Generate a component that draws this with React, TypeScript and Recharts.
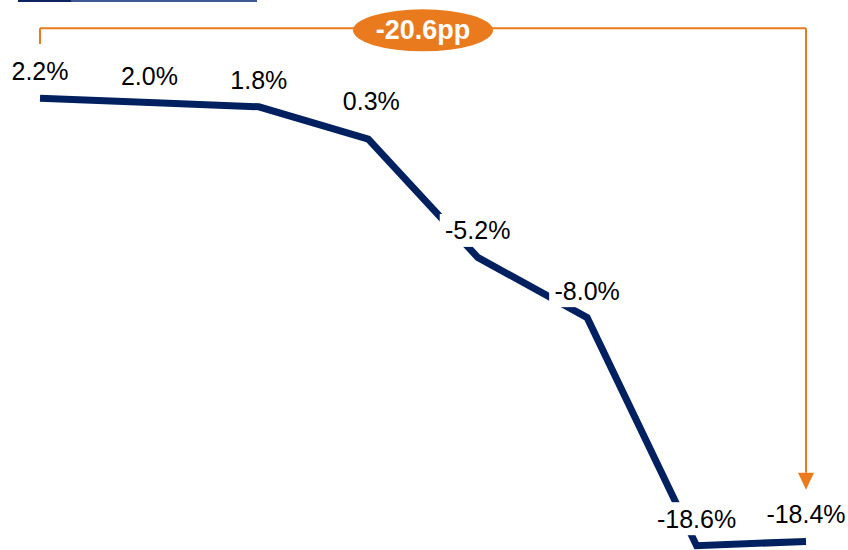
import { LabelList, Line, LineChart, ReferenceLine, XAxis, YAxis } from 'recharts';

const periods = ['P1', 'P2', 'P3', 'P4', 'P5', 'P6', 'P7', 'P8'];
const changePct = [2.2, 2.0, 1.8, 0.3, -5.2, -8.0, -18.6, -18.4];

// bracket annotation: total drop first -> last
const dropLabel = '-20.6pp';
const bracketLevel = 5.45;
const leftTickEnd = 4.72;
const arrowEnd = -16.0;

const NAVY = '#002060';
const ORANGE = '#E97B1E';
const FONT = '"Liberation Sans", Arial, sans-serif';

const data = periods.map((p, i) => ({ period: p, value: changePct[i] }));

function ValueLabel(props: any) {
  const { x, y, value, index } = props;
  if (x == null || y == null) return null;
  const text = `${Number(value).toFixed(1)}%`;
  const fontSize = 25;
  const w = text.length * fontSize * 0.56 + 6;
  const h = 33;
  // the 0.3% label sits a bit higher and right, clear of the line
  const lift = index === 3 ? 38 : 27;
  const cx = index === 3 ? x + 3 : x;
  const cy = y - lift;
  return (
    <g>
      <rect x={cx - w / 2} y={cy - h / 2} width={w} height={h} fill="#fff" />
      <text
        x={cx}
        y={cy}
        textAnchor="middle"
        dominantBaseline="central"
        fontFamily={FONT}
        fontSize={fontSize}
        fill="#000"
      >
        {text}
      </text>
    </g>
  );
}

function BracketTop(props: any) {
  const { x1, y1, x2, y2 } = props;
  const mx = (x1 + x2) / 2;
  return (
    <g>
      <line x1={x1} y1={y1} x2={x2} y2={y2} stroke={ORANGE} strokeWidth={2} />
      <ellipse cx={mx} cy={y1 + 2} rx={70} ry={21} fill={ORANGE} />
      <text
        x={mx}
        y={y1 + 2}
        textAnchor="middle"
        dominantBaseline="central"
        fontFamily={FONT}
        fontWeight="bold"
        fontSize={27}
        fill="#fff"
      >
        {dropLabel}
      </text>
    </g>
  );
}

function BracketArrow(props: any) {
  const { x1, y1, x2, y2 } = props;
  const head = 17;
  return (
    <g>
      <line x1={x1} y1={y1} x2={x2} y2={y2 - head} stroke={ORANGE} strokeWidth={2} />
      <polygon
        points={`${x2 - 8},${y2 - head} ${x2 + 8},${y2 - head} ${x2},${y2}`}
        fill={ORANGE}
      />
    </g>
  );
}

export default function App() {
  return (
    <div style={{ position: 'absolute', left: 0, top: 0, width: 848, height: 550, background: '#fff' }}>
      <div style={{ position: 'absolute', left: 18, top: 0, width: 53, height: 2, background: '#0E2160' }} />
      <div style={{ position: 'absolute', left: 71, top: 0, width: 186, height: 2, background: '#3F5793' }} />
      <LineChart
        width={848}
        height={550}
        data={data}
        margin={{ top: 10, right: 42, bottom: 0, left: 40 }}
      >
        <XAxis dataKey="period" hide padding={{ left: 0, right: 0 }} />
        <YAxis hide domain={[-18.8, 6.3]} allowDataOverflow />
        <ReferenceLine
          segment={[
            { x: periods[0], y: leftTickEnd },
            { x: periods[0], y: bracketLevel },
          ]}
          stroke={ORANGE}
          strokeWidth={2}
          ifOverflow="visible"
        />
        <ReferenceLine
          segment={[
            { x: periods[0], y: bracketLevel },
            { x: periods[periods.length - 1], y: bracketLevel },
          ]}
          ifOverflow="visible"
          shape={BracketTop}
        />
        <ReferenceLine
          segment={[
            { x: periods[periods.length - 1], y: bracketLevel },
            { x: periods[periods.length - 1], y: arrowEnd },
          ]}
          ifOverflow="visible"
          shape={BracketArrow}
        />
        <Line
          type="linear"
          dataKey="value"
          stroke={NAVY}
          strokeWidth={7}
          dot={false}
          isAnimationActive={false}
        >
          <LabelList dataKey="value" content={ValueLabel} />
        </Line>
      </LineChart>
    </div>
  );
}
